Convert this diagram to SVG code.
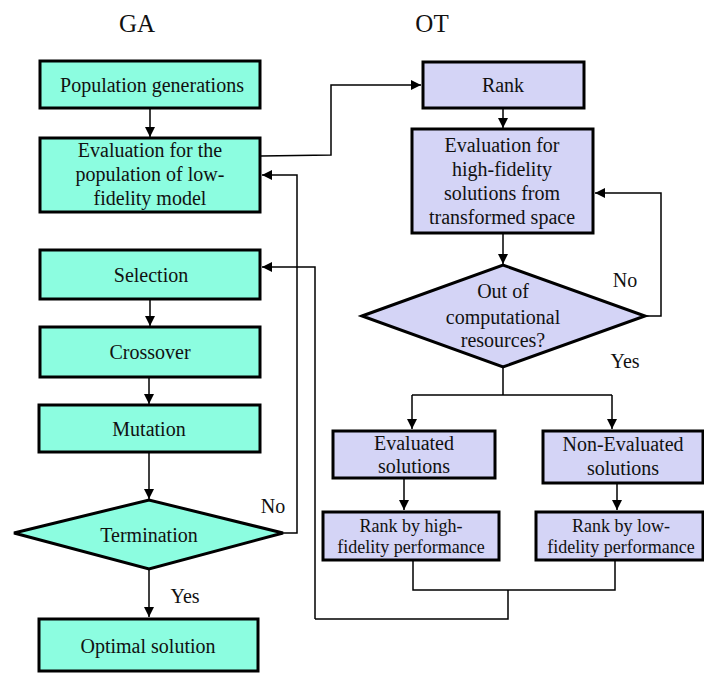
<svg xmlns="http://www.w3.org/2000/svg" width="704" height="675" viewBox="0 0 704 675">
<defs>
<marker id="arr" viewBox="0 0 10 10" refX="10" refY="5" markerWidth="10" markerHeight="10" markerUnits="userSpaceOnUse" orient="auto">
<path d="M0,0 L10,5 L0,10 z" fill="#000"/>
</marker>
<style>
.ga{fill:#8cfde0;stroke:#000;stroke-width:3}
.ot{fill:#d4d4f6;stroke:#000;stroke-width:3}
.c{fill:none;stroke:#000;stroke-width:1.5}
.a{marker-end:url(#arr)}
</style>
</defs>
<rect width="704" height="675" fill="#fff"/>
<text font-family="Liberation Serif" font-size="25" fill="#111" text-anchor="middle" x="137" y="32">GA</text>
<text font-family="Liberation Serif" font-size="25" fill="#111" text-anchor="middle" x="432" y="32">OT</text>
<g id="connectors">
<path class="c a" d="M150,108 V137"/>
<path class="c a" d="M261,156 L331,155 V85 H421"/>
<path class="c a" d="M150,299 V326"/>
<path class="c a" d="M149,377 V404"/>
<path class="c a" d="M149,452 V499"/>
<path class="c a" d="M283,533 H297 V175 H262"/>
<path class="c a" d="M149,569 V617"/>
<path class="c a" d="M503,108 V128"/>
<path class="c a" d="M503,233 V264"/>
<path class="c a" d="M645,316 H661 V193 H595"/>
<path class="c" d="M503,367 V395 M412,395 H612"/>
<path class="c a" d="M412,395 V429"/>
<path class="c a" d="M612,395 V429"/>
<path class="c a" d="M404,478 V510"/>
<path class="c a" d="M617,483 V510"/>
<path class="c" d="M413,560 V590 H615 V560 M508,590 V619 H315"/>
<path class="c a" d="M315,619 V267 H262"/>
</g>
<g id="population"><rect class="ga" x="40" y="61" width="220" height="47"/><text font-family="Liberation Serif" font-size="20" fill="#111" text-anchor="middle" x="152" y="92">Population generations</text></g>
<g id="evaluation-lf"><rect class="ga" x="40" y="138" width="220" height="74"/><text font-family="Liberation Serif" font-size="20" fill="#111" text-anchor="middle" x="150" y="157">Evaluation for the</text><text font-family="Liberation Serif" font-size="20" fill="#111" text-anchor="middle" x="150" y="181">population of low-</text><text font-family="Liberation Serif" font-size="20" fill="#111" text-anchor="middle" x="150" y="205">fidelity model</text></g>
<g id="selection"><rect class="ga" x="40" y="250" width="220" height="49"/><text font-family="Liberation Serif" font-size="20" fill="#111" text-anchor="middle" x="151" y="282">Selection</text></g>
<g id="crossover"><rect class="ga" x="40" y="327" width="220" height="50"/><text font-family="Liberation Serif" font-size="20" fill="#111" text-anchor="middle" x="150" y="359">Crossover</text></g>
<g id="mutation"><rect class="ga" x="39" y="405" width="221" height="47"/><text font-family="Liberation Serif" font-size="20" fill="#111" text-anchor="middle" x="149" y="436">Mutation</text></g>
<g id="termination"><polygon class="ga" points="14,533 149,500 283,533 149,569"/><text font-family="Liberation Serif" font-size="20" fill="#111" text-anchor="middle" x="149" y="542">Termination</text></g>
<text font-family="Liberation Serif" font-size="20" fill="#111" text-anchor="middle" x="273" y="513">No</text>
<text font-family="Liberation Serif" font-size="20" fill="#111" text-anchor="middle" x="185" y="603">Yes</text>
<g id="optimal"><rect class="ga" x="39" y="619" width="219" height="52"/><text font-family="Liberation Serif" font-size="20" fill="#111" text-anchor="middle" x="148" y="653">Optimal solution</text></g>
<g id="rank"><rect class="ot" x="423" y="62" width="161" height="46"/><text font-family="Liberation Serif" font-size="20" fill="#111" text-anchor="middle" x="503" y="92">Rank</text></g>
<g id="evaluation-hf"><rect class="ot" x="412" y="129" width="181" height="104"/><text font-family="Liberation Serif" font-size="20" fill="#111" text-anchor="middle" x="502" y="152">Evaluation for</text><text font-family="Liberation Serif" font-size="20" fill="#111" text-anchor="middle" x="502" y="176">high-fidelity</text><text font-family="Liberation Serif" font-size="20" fill="#111" text-anchor="middle" x="502" y="200">solutions from</text><text font-family="Liberation Serif" font-size="20" fill="#111" text-anchor="middle" x="502" y="224">transformed space</text></g>
<g id="resources"><polygon class="ot" points="362,316 503,265 645,316 503,367"/><text font-family="Liberation Serif" font-size="20" fill="#111" text-anchor="middle" x="503" y="298">Out of</text><text font-family="Liberation Serif" font-size="20" fill="#111" text-anchor="middle" x="503" y="324">computational</text><text font-family="Liberation Serif" font-size="20" fill="#111" text-anchor="middle" x="503" y="347">resources?</text></g>
<text font-family="Liberation Serif" font-size="20" fill="#111" text-anchor="middle" x="625" y="287">No</text>
<text font-family="Liberation Serif" font-size="20" fill="#111" text-anchor="middle" x="625" y="368">Yes</text>
<g id="evaluated"><rect class="ot" x="333" y="431" width="162" height="47"/><text font-family="Liberation Serif" font-size="20" fill="#111" text-anchor="middle" x="414" y="450">Evaluated</text><text font-family="Liberation Serif" font-size="20" fill="#111" text-anchor="middle" x="414" y="473">solutions</text></g>
<g id="non-evaluated"><rect class="ot" x="543" y="431" width="160" height="52"/><text font-family="Liberation Serif" font-size="20" fill="#111" text-anchor="middle" x="623" y="451">Non-Evaluated</text><text font-family="Liberation Serif" font-size="20" fill="#111" text-anchor="middle" x="623" y="475">solutions</text></g>
<g id="rank-high"><rect class="ot" x="323" y="512" width="176" height="48"/><text font-family="Liberation Serif" font-size="18" fill="#111" text-anchor="middle" x="411" y="532">Rank by high-</text><text font-family="Liberation Serif" font-size="18" fill="#111" text-anchor="middle" x="411" y="553">fidelity performance</text></g>
<g id="rank-low"><rect class="ot" x="536" y="512" width="167" height="48"/><text font-family="Liberation Serif" font-size="18" fill="#111" text-anchor="middle" x="621" y="532">Rank by low-</text><text font-family="Liberation Serif" font-size="18" fill="#111" text-anchor="middle" x="621" y="553">fidelity performance</text></g>
</svg>
